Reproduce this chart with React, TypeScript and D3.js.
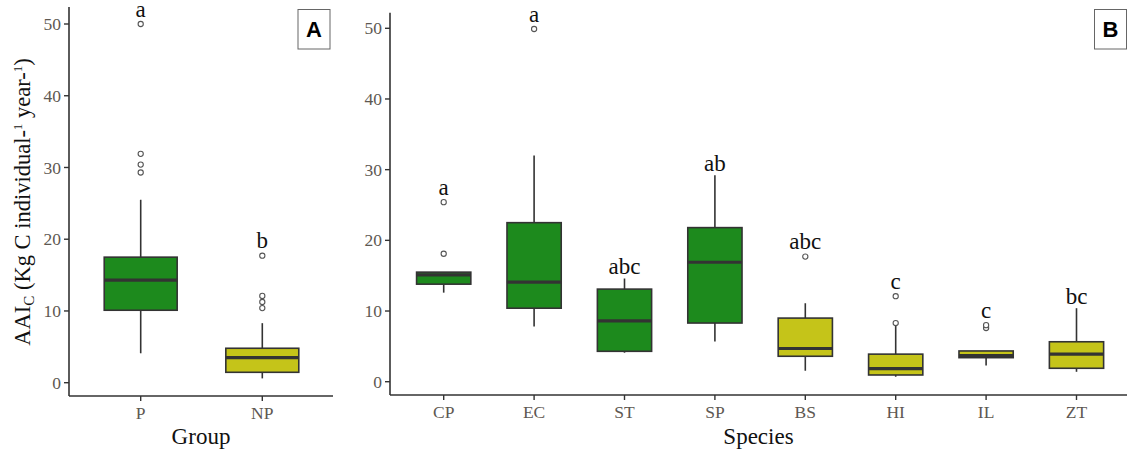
import React from "react";
import * as d3 from "d3";

const groupNames = ["P", "NP"];
const groupLow = [4.1, 0.6];
const groupQ1 = [10.1, 1.45];
const groupMed = [14.3, 3.5];
const groupQ3 = [17.5, 4.8];
const groupHigh = [25.5, 8.3];
const groupOutliers = [[29.3, 30.4, 31.9, 50], [10.4, 11.25, 12.1, 17.7]];
const groupLetters = ["a", "b"];
const groupKind = ["P", "NP"];

const speciesNames = ["CP", "EC", "ST", "SP", "BS", "HI", "IL", "ZT"];
const speciesLow = [12.6, 7.8, 4.1, 5.7, 1.55, 0.7, 2.3, 1.4];
const speciesQ1 = [13.8, 10.4, 4.3, 8.3, 3.6, 0.95, 3.4, 1.9];
const speciesMed = [15.1, 14.1, 8.6, 16.9, 4.7, 1.85, 3.7, 3.9];
const speciesQ3 = [15.5, 22.5, 13.1, 21.8, 9.0, 3.9, 4.35, 5.65];
const speciesHigh = [15.5, 32.0, 14.6, 29.2, 11.1, 8.0, 4.35, 10.4];
const speciesOutliers = [[18.1, 25.4], [49.9], [], [], [17.7], [8.3, 12.1], [7.6, 8.0], []];
const speciesLetters = ["a", "a", "abc", "ab", "abc", "c", "c", "bc"];
const speciesKind = ["P", "P", "P", "P", "NP", "NP", "NP", "NP"];

const yTicks = [0, 10, 20, 30, 40, 50];

const fillColor: Record<string, string> = { P: "#1d8a1d", NP: "#c5c419" };
const INK = "#333333";
const SERIF = "'Liberation Serif', 'Times New Roman', serif";

type PanelProps = {
  names: string[];
  low: number[];
  q1: number[];
  med: number[];
  q3: number[];
  high: number[];
  outliers: number[][];
  letters: string[];
  kind: string[];
  axisX0: number;
  axisX1: number;
  bandX0: number;
  bandX1: number;
  yTop: number;
  axisY: number;
  y0px: number;
  y50px: number;
  title: string;
  tag: string;
  tagX: number;
};

function Panel(p: PanelProps) {
  const x = d3.scaleBand<string>().domain(p.names).range([p.bandX0, p.bandX1]).paddingInner(0).paddingOuter(0);
  const y = d3.scaleLinear().domain([0, 50]).range([p.y0px, p.y50px]);
  const bw = x.bandwidth() * 0.6;
  return (
    <g>
      {p.names.map((n, i) => {
        const cx = (x(n) as number) + x.bandwidth() / 2;
        const maxV = Math.max(p.high[i], ...(p.outliers[i].length ? p.outliers[i] : [-Infinity]));
        const hasOut = p.outliers[i].length > 0 && Math.max(...p.outliers[i]) > p.high[i];
        return (
          <g key={n}>
            <line x1={cx} x2={cx} y1={y(p.q3[i])} y2={y(p.high[i])} stroke={INK} strokeWidth={1.6} />
            <line x1={cx} x2={cx} y1={y(p.q1[i])} y2={y(p.low[i])} stroke={INK} strokeWidth={1.6} />
            <rect
              x={cx - bw / 2}
              y={y(p.q3[i])}
              width={bw}
              height={y(p.q1[i]) - y(p.q3[i])}
              fill={fillColor[p.kind[i]]}
              stroke={INK}
              strokeWidth={1.6}
            />
            <line x1={cx - bw / 2} x2={cx + bw / 2} y1={y(p.med[i])} y2={y(p.med[i])} stroke={INK} strokeWidth={3.2} />
            {p.outliers[i].map((v, j) => (
              <circle key={j} cx={cx} cy={y(v)} r={2.6} fill="#ffffff" stroke="#555" strokeWidth={1.1} />
            ))}
            <text
              x={cx}
              y={y(maxV) - (hasOut ? 7.5 : 4.5)}
              textAnchor="middle"
              fontFamily={SERIF}
              fontSize={23}
              fill="#111"
            >
              {p.letters[i]}
            </text>
          </g>
        );
      })}
      <line x1={p.axisX0} x2={p.axisX0} y1={p.yTop} y2={p.axisY} stroke={INK} strokeWidth={1.6} />
      {yTicks.map((t) => (
        <g key={t}>
          <line x1={p.axisX0 - 5} x2={p.axisX0} y1={y(t)} y2={y(t)} stroke={INK} strokeWidth={1.4} />
          <text x={p.axisX0 - 8} y={y(t)} dy="0.35em" textAnchor="end" fontFamily={SERIF} fontSize={17.5} fill="#5e5852">
            {t}
          </text>
        </g>
      ))}
      <line x1={p.axisX0} x2={p.axisX1} y1={p.axisY} y2={p.axisY} stroke={INK} strokeWidth={1.6} />
      {p.names.map((n) => {
        const cx = (x(n) as number) + x.bandwidth() / 2;
        return (
          <g key={n}>
            <line x1={cx} x2={cx} y1={p.axisY} y2={p.axisY + 5} stroke={INK} strokeWidth={1.4} />
            <text x={cx} y={p.axisY + 23} textAnchor="middle" fontFamily={SERIF} fontSize={17.5} fill="#5e5852">
              {n}
            </text>
          </g>
        );
      })}
      <text x={(p.axisX0 + p.axisX1) / 2} y={444} textAnchor="middle" fontFamily={SERIF} fontSize={23} fill="#111">
        {p.title}
      </text>
      <rect x={p.tagX} y={9.5} width={32} height={39.5} fill="#fff" stroke="#666" strokeWidth={1} />
      <text
        x={p.tagX + 16}
        y={29.5}
        dy="0.36em"
        textAnchor="middle"
        fontFamily="'Liberation Sans', Arial, sans-serif"
        fontWeight="bold"
        fontSize={22}
        fill="#000"
      >
        {p.tag}
      </text>
    </g>
  );
}

export default function App() {
  return (
    <svg width={1127} height={452} style={{ position: "absolute", left: 0, top: 0, background: "#fff" }}>
      <rect x={0} y={0} width={1127} height={452} fill="#fff" />
      <text
        transform="translate(30,202) rotate(-90)"
        textAnchor="middle"
        fontFamily={SERIF}
        fontSize={22.5}
        fill="#111"
      >
        AAI
        <tspan fontSize={15} dy={4}>C</tspan>
        <tspan dy={-4}> (Kg C individual-</tspan>
        <tspan fontSize={13} dy={-8}>1</tspan>
        <tspan dy={8}> year-</tspan>
        <tspan fontSize={13} dy={-8}>1</tspan>
        <tspan dy={8}>)</tspan>
      </text>
      <Panel
        names={groupNames}
        low={groupLow}
        q1={groupQ1}
        med={groupMed}
        q3={groupQ3}
        high={groupHigh}
        outliers={groupOutliers}
        letters={groupLetters}
        kind={groupKind}
        axisX0={69}
        axisX1={333}
        bandX0={79.9}
        bandX1={323.1}
        yTop={7}
        axisY={396}
        y0px={382.7}
        y50px={24}
        title="Group"
        tag="A"
        tagX={298}
      />
      <Panel
        names={speciesNames}
        low={speciesLow}
        q1={speciesQ1}
        med={speciesMed}
        q3={speciesQ3}
        high={speciesHigh}
        outliers={speciesOutliers}
        letters={speciesLetters}
        kind={speciesKind}
        axisX0={390}
        axisX1={1127}
        bandX0={398.5}
        bandX1={1121.7}
        yTop={12.7}
        axisY={395}
        y0px={381.7}
        y50px={28.3}
        title="Species"
        tag="B"
        tagX={1094.5}
      />
    </svg>
  );
}
